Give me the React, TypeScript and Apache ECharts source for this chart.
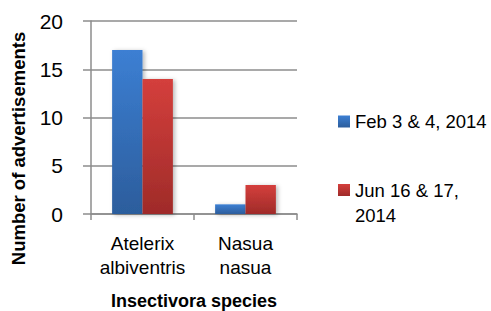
import React, { useEffect, useRef } from "react";
import * as echarts from "echarts";

const categories = ["Atelerix\nalbiventris", "Nasua\nnasua"];
const seriesNames = ["Feb 3 & 4, 2014", "Jun 16 & 17,\n2014"];
const febValues = [17, 1];
const junValues = [14, 3];
const yTicks = { min: 0, max: 20, interval: 5 };

const FONT = "Liberation Sans";
const GRAY = "#8c8c8c";

const blueGrad = new echarts.graphic.LinearGradient(0, 0, 0, 1, [
  { offset: 0, color: "#3c7fd3" },
  { offset: 1, color: "#2c5d9c" },
]);
const redGrad = new echarts.graphic.LinearGradient(0, 0, 0, 1, [
  { offset: 0, color: "#d43f3c" },
  { offset: 1, color: "#9f2b29" },
]);

export default function App() {
  const ref = useRef<HTMLDivElement>(null);
  useEffect(() => {
    if (!ref.current) return;
    const chart = echarts.init(ref.current, null, { renderer: "svg" });
    const shadow = {
      shadowBlur: 4,
      shadowColor: "rgba(0,0,0,0.28)",
      shadowOffsetX: 2,
      shadowOffsetY: 1,
    };
    const legendText = { fontSize: 18.5, lineHeight: 25, color: "#000", fontFamily: FONT };
    chart.setOption({
      animation: false,
      backgroundColor: "#ffffff",
      textStyle: { fontFamily: FONT },
      grid: {
        left: 91,
        top: 21,
        width: 206,
        height: 193,
        containLabel: false,
        outerBoundsMode: "none",
      },
      legend: [
        {
          orient: "vertical",
          left: 338,
          top: 109,
          padding: 0,
          itemWidth: 12,
          itemHeight: 12,
          icon: "rect",
          textStyle: legendText,
          data: [seriesNames[0]],
        },
        {
          orient: "vertical",
          left: 338,
          top: 152.5,
          padding: 0,
          itemWidth: 12,
          itemHeight: 12,
          icon: "rect",
          textStyle: legendText,
          formatter: (name: string) => "\n" + name,
          data: [seriesNames[1]],
        },
      ],
      xAxis: {
        type: "category",
        data: categories,
        name: "Insectivora species",
        nameLocation: "middle",
        nameGap: 78,
        nameTextStyle: { fontSize: 18, fontWeight: "bold", color: "#000", fontFamily: FONT },
        axisLine: { show: true, lineStyle: { color: GRAY, width: 1.5 } },
        axisTick: { show: true, length: 6, alignWithLabel: false, lineStyle: { color: GRAY, width: 1.5 } },
        axisLabel: {
          interval: 0,
          fontSize: 19,
          lineHeight: 24,
          color: "#000",
          margin: 17,
          fontFamily: FONT,
        },
      },
      yAxis: {
        type: "value",
        min: yTicks.min,
        max: yTicks.max,
        interval: yTicks.interval,
        axisLine: { show: true, lineStyle: { color: GRAY, width: 1.5 } },
        axisTick: { show: true, length: 8, lineStyle: { color: GRAY, width: 1.5 } },
        splitLine: { show: true, lineStyle: { color: GRAY, width: 1.5 } },
        axisLabel: { fontSize: 21, color: "#000", margin: 28, fontFamily: FONT },
      },
      graphic: [
        {
          type: "text",
          x: 18,
          y: 148.5,
          rotation: Math.PI / 2,
          style: {
            text: "Number of advertisements",
            fontSize: 18.5,
            fontWeight: "bold",
            fontFamily: FONT,
            fill: "#000",
            align: "center",
            verticalAlign: "middle",
          },
        },
      ],
      series: [
        {
          name: seriesNames[0],
          type: "bar",
          data: febValues,
          barGap: "0%",
          barCategoryGap: "41%",
          itemStyle: { color: blueGrad, ...shadow },
        },
        {
          name: seriesNames[1],
          type: "bar",
          data: junValues,
          barGap: "0%",
          barCategoryGap: "41%",
          itemStyle: { color: redGrad, ...shadow },
        },
      ],
    });
    return () => chart.dispose();
  }, []);
  return (
    <div
      ref={ref}
      style={{ position: "absolute", left: 0, top: 0, width: 491, height: 311 }}
    />
  );
}
